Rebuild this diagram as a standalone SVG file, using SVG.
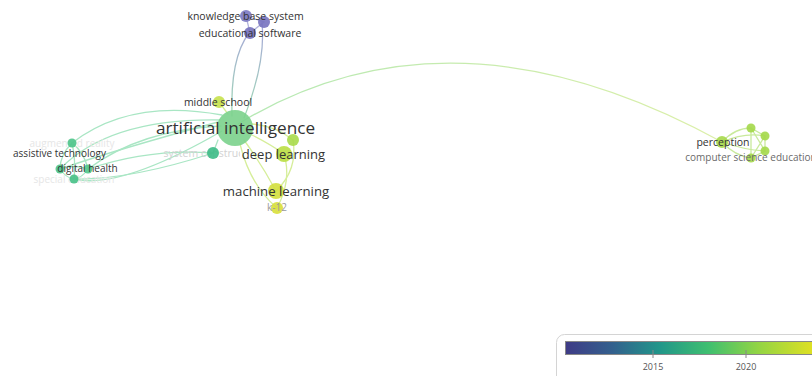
<svg xmlns="http://www.w3.org/2000/svg" width="812" height="376" viewBox="0 0 812 376">
<defs>
<style>
.lbl{font-family:"Open Sans","Liberation Sans",sans-serif;fill:#333;text-anchor:middle}
.fade{font-family:"Open Sans","Liberation Sans",sans-serif;fill:#e6e6e6;text-anchor:middle}
.e{fill:none;stroke-width:1.3;stroke-linecap:round}
.g{stroke:#a9e6c4}
.y{stroke:#d6ee9a}
.r{stroke:#c9ea9c}
.p{stroke:#b3b3dc}
.n{stroke:none;opacity:0.9}
.tick{font-family:"Open Sans","Liberation Sans",sans-serif;font-size:9px;fill:#555;text-anchor:middle}
</style>
<linearGradient id="arc" gradientUnits="userSpaceOnUse" x1="235" y1="0" x2="722" y2="0">
<stop offset="0" stop-color="#b4e8b4"/><stop offset="1" stop-color="#dcefa8"/>
</linearGradient>
<linearGradient id="pg" gradientUnits="userSpaceOnUse" x1="0" y1="25" x2="0" y2="120">
<stop offset="0" stop-color="#a7a7d8"/><stop offset="1" stop-color="#9fdcb4"/>
</linearGradient>
<linearGradient id="vir" x1="0" y1="0" x2="1" y2="0">
<stop offset="0" stop-color="#3f3b86"/>
<stop offset="0.18" stop-color="#33608d"/>
<stop offset="0.36" stop-color="#21968a"/>
<stop offset="0.55" stop-color="#3fbf70"/>
<stop offset="0.74" stop-color="#92d444"/>
<stop offset="1" stop-color="#f0e31c"/>
</linearGradient>
<clipPath id="sc"><rect x="150" y="140" width="90" height="25"/></clipPath>
</defs>
<rect width="812" height="376" fill="#fff"/>

<g id="connectors">
<path class="e" stroke="url(#arc)" stroke-width="1.4" d="M238,124 Q452,-6 722,142"/>
<path class="e" stroke="url(#pg)" d="M232,116 Q230,58 249,33"/>
<path class="e" stroke="url(#pg)" d="M244,118 Q266,62 262,23"/>
<path class="e p" d="M246,16 L264,22 L250,33 Z"/>
<path class="e g" d="M222,115 Q130,98 72,143"/>
<path class="e g" d="M220,120 Q110,118 60,169"/>
<path class="e g" d="M221,126 Q140,130 88,169"/>
<path class="e g" d="M222,131 Q120,190 74,179"/>
<path class="e g" d="M213,153 Q130,180 74,179"/>
<path class="e g" d="M213,153 Q150,148 88,169"/>
<path class="e g" d="M218,122 Q115,150 60,169"/>
<path class="e g" d="M72,143 Q60,155 60,169 M72,143 Q84,152 88,169 M60,169 Q74,164 88,169 M60,169 Q66,178 74,179 M88,169 Q82,178 74,179 M72,143 Q76,160 74,179"/>
<path class="e g" d="M218,140 L213,153"/>
<path class="e y" d="M228,114 L219,102"/>
<path class="e y" d="M244,140 Q262,165 276,191"/>
<path class="e y" d="M250,134 Q270,144 284,154"/>
<path class="e y" d="M252,124 Q276,126 293,140"/>
<path class="e y" d="M284,154 Q292,180 277,208"/>
<path class="e y" d="M293,140 Q298,170 276,191"/>
<path class="e y" d="M240,144 Q250,185 277,208"/>
<path class="e r" d="M722,142 Q735,128 751,128 M722,142 Q745,132 765,136 M722,142 Q745,150 765,151 M722,142 Q735,156 751,158"/>
<path class="e r" d="M751,128 L765,136 L765,151 L751,158 Z M751,128 L765,151 M765,136 L751,158 M751,128 L751,158"/>
</g>

<g id="n-augmented-reality"><text class="fade" x="72" y="146.5" font-size="10">augmented reality</text><circle class="n" cx="72" cy="143" r="4.5" fill="#4cc48a"/></g>
<g id="n-special-education"><text class="fade" x="74" y="182.5" font-size="10">special education</text><circle class="n" cx="74" cy="179" r="4.5" fill="#45c086"/></g>
<g id="n-left-a"><circle class="n" cx="60" cy="169" r="4.5" fill="#4cc48a"/></g>
<g id="n-digital-health"><circle class="n" cx="88" cy="169" r="4.5" fill="#52c78c"/><text class="lbl" x="87.5" y="171.5" font-size="10">digital health</text></g>
<g id="n-assistive-technology"><text class="lbl" x="59.5" y="156.5" font-size="10">assistive technology</text></g>

<g id="n-system-construction"><text class="fade" x="213" y="157" font-size="10.5" clip-path="url(#sc)" style="fill:#d2d2d2">system construction</text><circle class="n" cx="213" cy="153" r="6" fill="#3dbb86"/></g>

<g id="n-knowledge-base-system"><circle class="n" cx="246" cy="16" r="6" fill="#7b78c2"/><circle class="n" cx="264" cy="22" r="6" fill="#7772bf"/><text class="lbl" x="245.5" y="20" font-size="10.5">knowledge base system</text></g>
<g id="n-educational-software"><circle class="n" cx="250" cy="33" r="6" fill="#7470bc"/><text class="lbl" x="250" y="36.5" font-size="10.5">educational software</text></g>

<g id="n-middle-school"><circle class="n" cx="219" cy="102" r="6" fill="#c6e14c"/><text class="lbl" x="218" y="105.5" font-size="10.5">middle school</text></g>

<g id="n-artificial-intelligence"><circle class="n" cx="235" cy="128" r="18" fill="#7bd18c"/><text class="lbl" x="235.5" y="134" font-size="17.2">artificial intelligence</text></g>

<g id="n-unlabeled"><circle class="n" cx="293" cy="140" r="6" fill="#a9da4a"/></g>
<g id="n-deep-learning"><circle class="n" cx="284" cy="154" r="8" fill="#bade42"/><text class="lbl" x="283.5" y="158.5" font-size="13">deep learning</text></g>
<g id="n-k-12"><circle class="n" cx="277" cy="208" r="6" fill="#d8df3a"/><text class="lbl" x="277" y="211" font-size="10" style="fill:#9a9a9a">k-12</text></g>
<g id="n-machine-learning"><circle class="n" cx="276" cy="191" r="8" fill="#d3df3c"/><text class="lbl" x="276" y="196" font-size="13.2">machine learning</text></g>

<g id="n-right-nodes"><circle class="n" cx="751" cy="128" r="4.5" fill="#a4d84a"/><circle class="n" cx="765" cy="136" r="4.5" fill="#a4d84a"/><circle class="n" cx="765" cy="151" r="4.5" fill="#a4d84a"/><circle class="n" cx="751" cy="158" r="4.5" fill="#a4d84a"/></g>
<g id="n-computer-science-education"><text class="lbl" x="751" y="160.5" font-size="10" style="fill:#6a6a6a">computer science education</text></g>
<g id="n-perception"><circle class="n" cx="722" cy="142" r="6" fill="#a6d84a"/><text class="lbl" x="723" y="145.5" font-size="10.5">perception</text></g>

<g id="legend">
<rect x="556.5" y="334.5" width="270" height="50" rx="8" fill="#fff" stroke="#d4d4d4"/>
<rect x="565.5" y="341.5" width="260" height="13" fill="url(#vir)" stroke="#888"/>
<line x1="653" y1="350" x2="653" y2="358" stroke="#888"/>
<line x1="746" y1="350" x2="746" y2="358" stroke="#888"/>
<text class="tick" x="653" y="370">2015</text>
<text class="tick" x="746" y="370">2020</text>
</g>
</svg>
